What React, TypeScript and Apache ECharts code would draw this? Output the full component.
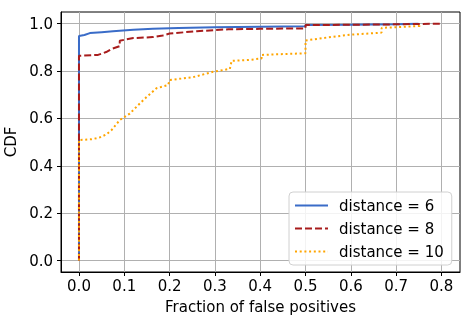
import React, { useEffect, useRef } from "react";
import * as echarts from "echarts";

const xTicks = [0, 0.1, 0.2, 0.3, 0.4, 0.5, 0.6, 0.7, 0.8];
const yTicks = [0, 0.2, 0.4, 0.6, 0.8, 1.0];

const seriesNames = ["distance = 6", "distance = 8", "distance = 10"];

const dist6: [number, number][] = [
  [0, 0], [0, 0.948], [0.012, 0.952], [0.024, 0.96], [0.05, 0.964], [0.075, 0.968],
  [0.12, 0.974], [0.163, 0.978], [0.22, 0.982], [0.3, 0.985], [0.4, 0.987],
  [0.5, 0.989], [0.5, 0.994], [0.6, 0.995], [0.7, 0.997], [0.748, 0.999], [0.75, 1.0],
];

const dist8: [number, number][] = [
  [0, 0], [0, 0.864], [0.042, 0.868], [0.06, 0.88], [0.072, 0.893], [0.09, 0.905],
  [0.09, 0.928], [0.12, 0.939], [0.163, 0.943], [0.185, 0.95], [0.2, 0.958],
  [0.26, 0.968], [0.33, 0.976], [0.4, 0.978], [0.5, 0.98], [0.5, 0.994],
  [0.6, 0.995], [0.7, 0.997], [0.8, 1.0],
];

const dist10: [number, number][] = [
  [0, 0], [0, 0.509], [0.028, 0.512], [0.046, 0.52], [0.06, 0.532], [0.072, 0.551],
  [0.09, 0.593], [0.112, 0.62], [0.13, 0.655], [0.149, 0.69], [0.171, 0.727],
  [0.197, 0.741], [0.2, 0.762], [0.252, 0.774], [0.296, 0.797], [0.333, 0.809],
  [0.337, 0.843], [0.377, 0.847], [0.403, 0.853], [0.403, 0.868], [0.5, 0.875],
  [0.5, 0.929], [0.55, 0.942], [0.598, 0.953], [0.668, 0.962], [0.668, 0.982],
  [0.752, 0.99], [0.752, 1.0],
];

const colors = ["#3a6cc8", "#a81c1c", "#ffa500"];

export default function App() {
  const ref = useRef<HTMLDivElement>(null);
  useEffect(() => {
    if (!ref.current) return;
    const chart = echarts.init(ref.current, null, { renderer: "svg" });
    const font = "DejaVu Sans";
    const mk = (name: string, data: [number, number][], color: string, type: any) => ({
      name,
      type: "line",
      data,
      showSymbol: false,
      symbol: "none",
      color,
      lineStyle: { color, width: 2, type },
      z: 3,
    });
    chart.setOption({
      animation: false,
      textStyle: { fontFamily: font },
      grid: {
        left: 61,
        right: 13,
        top: 12,
        bottom: 52,
        containLabel: false,
        outerBoundsMode: "none",
        show: true,
        borderColor: "#000",
        borderWidth: 1,
        backgroundColor: "transparent",
      },
      xAxis: {
        type: "value",
        min: -0.0397,
        max: 0.841,
        name: "Fraction of false positives",
        nameLocation: "middle",
        nameGap: 27,
        nameTextStyle: { fontSize: 15, color: "#000", fontFamily: font },
        axisLine: { show: true, onZero: false, lineStyle: { color: "#000", width: 1 } },
        axisTick: { show: true, inside: false, length: 4, customValues: xTicks, lineStyle: { color: "#000" } },
        axisLabel: {
          customValues: xTicks,
          fontSize: 15,
          color: "#000",
          margin: 6,
          formatter: (v: number) => v.toFixed(1),
        },
        splitLine: { show: true, lineStyle: { color: "#b0b0b0", width: 1 } },
      },
      yAxis: {
        type: "value",
        min: -0.048,
        max: 1.049,
        name: "CDF",
        nameLocation: "middle",
        nameGap: 40,
        nameRotate: 90,
        nameTextStyle: { fontSize: 15, color: "#000", fontFamily: font },
        axisLine: { show: true, onZero: false, lineStyle: { color: "#000", width: 1 } },
        axisTick: { show: true, inside: false, length: 4, customValues: yTicks, lineStyle: { color: "#000" } },
        axisLabel: {
          customValues: yTicks,
          fontSize: 15,
          color: "#000",
          margin: 8,
          formatter: (v: number) => v.toFixed(1),
        },
        splitLine: { show: true, lineStyle: { color: "#b0b0b0", width: 1 } },
      },
      legend: {
        data: seriesNames,
        orient: "vertical",
        left: 289,
        top: 192,
        padding: [6, 8, 6, 5],
        itemWidth: 33,
        itemHeight: 14,
        itemGap: 8,
        itemStyle: { opacity: 0 },
        backgroundColor: "rgba(255,255,255,0.85)",
        borderColor: "#d0d0d0",
        borderWidth: 1,
        borderRadius: 4,
        textStyle: { fontSize: 15, color: "#000", fontFamily: font, padding: [0, 0, 0, 6] },
      },
      series: [
        mk(seriesNames[0], dist6, colors[0], "solid"),
        mk(seriesNames[1], dist8, colors[1], [7, 3]),
        mk(seriesNames[2], dist10, colors[2], [2, 2.7]),
      ],
    });
    return () => chart.dispose();
  }, []);
  return (
    <div
      ref={ref}
      style={{ position: "fixed", left: 0, top: 0, width: 473, height: 324 }}
    />
  );
}
